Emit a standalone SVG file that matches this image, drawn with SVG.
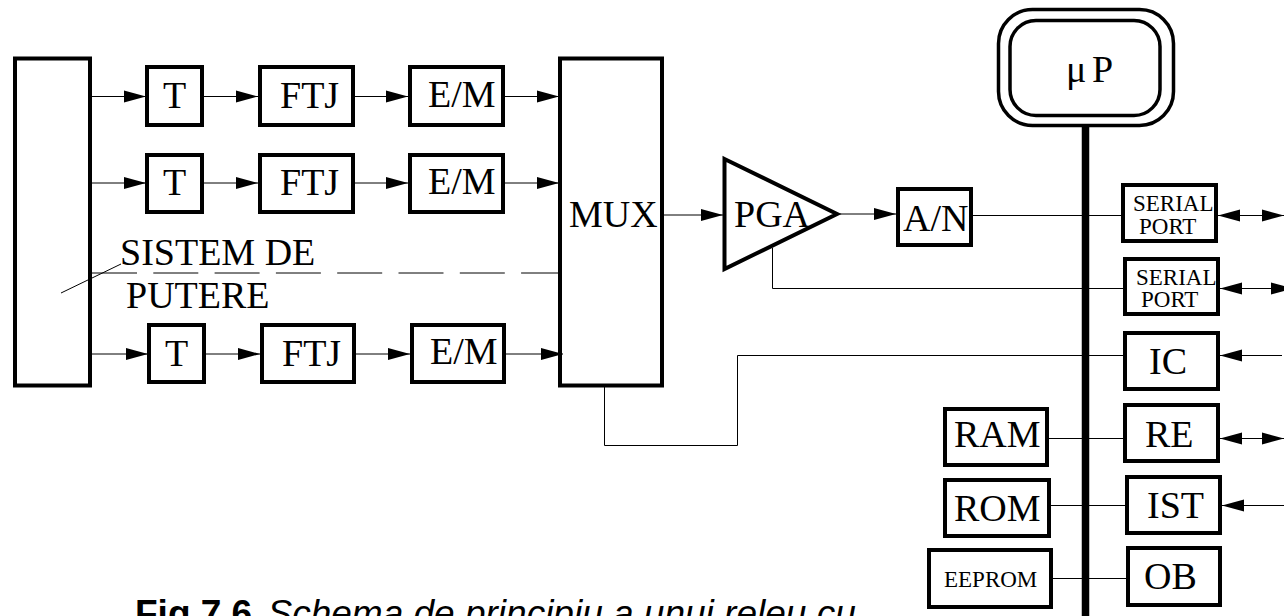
<svg xmlns="http://www.w3.org/2000/svg" width="1284" height="616" viewBox="0 0 1284 616">
<style>
text{font-family:"Liberation Serif","Times New Roman",serif;font-size:38px;fill:#000}
text.s{font-size:23px}
text.cap{font-family:"Liberation Sans",Arial,sans-serif;font-size:37px}
.b{fill:#fff;stroke:#000;stroke-width:4}
.c{fill:none;stroke:#000;stroke-width:1}
.a{marker-end:url(#arrow)}
.d{marker-start:url(#arrow);marker-end:url(#arrow)}
</style>
<defs>
<marker id="arrow" markerUnits="userSpaceOnUse" markerWidth="22" markerHeight="13" refX="22" refY="6.500" orient="auto-start-reverse"><path d="M0 0.500L22 6.500L0 12.500Z" fill="#000"/></marker>
</defs>
<g id="connectors">
<path class="c a" d="M92 96.500H146"/><path class="c a" d="M204 96.500H258"/><path class="c a" d="M354 96.500H408"/><path class="c a" d="M505 96.500H559"/>
<path class="c a" d="M92 183H146"/><path class="c a" d="M204 183H258"/><path class="c a" d="M354 183H408"/><path class="c a" d="M505 183H559"/>
<path class="c a" d="M92 354H148"/><path class="c a" d="M206 354H260"/><path class="c a" d="M356 354H410"/><path class="c a" d="M506 354H563"/>
<path class="c" stroke-dasharray="45 16.3" d="M92 273H559"/>
<path class="c" d="M61 293L121 264"/>
<path class="c a" d="M664 215H723"/>
<path class="c a" d="M840 214H896"/>
<path class="c" d="M973 215.500H1121"/>
<path class="c" d="M772.500 248V288.500H1123"/>
<path class="c" d="M604.500 387V445.500H737.500V355.500H1123"/>
<path class="c" d="M1049 438.500H1123"/>
<path class="c" d="M1051 505.500H1125"/>
<path class="c" d="M1053 578.500H1126"/>
<path class="c d" d="M1284 215.500H1218"/>
<path class="c d" d="M1293 288.500H1220"/>
<path class="c a" d="M1282 355.500H1220"/>
<path class="c d" d="M1284 438.500H1220"/>
<path class="c a" d="M1284 505.500H1222"/>
<path d="M1085.500 127V616" fill="none" stroke="#000" stroke-width="7.500"/>
</g>
<g id="sistem"><rect class="b" x="15" y="58.500" width="75" height="327" fill-opacity="0"/><text x="120" y="265">SISTEM DE</text><text x="126" y="308">PUTERE</text></g>
<g id="t1"><rect class="b" x="147" y="67" width="55" height="58"/><text x="163" y="108">T</text></g>
<g id="ftj1"><rect class="b" x="260" y="67" width="93" height="58"/><text x="280" y="108">FTJ</text></g>
<g id="em1"><rect class="b" x="410" y="67" width="93" height="58"/><text x="428" y="107">E/M</text></g>
<g id="t2"><rect class="b" x="147" y="155" width="55" height="57"/><text x="163" y="195">T</text></g>
<g id="ftj2"><rect class="b" x="260" y="155" width="93" height="57"/><text x="280" y="195">FTJ</text></g>
<g id="em2"><rect class="b" x="410" y="155" width="93" height="57"/><text x="428" y="194">E/M</text></g>
<g id="t3"><rect class="b" x="149" y="325" width="55" height="57"/><text x="165" y="366">T</text></g>
<g id="ftj3"><rect class="b" x="262" y="325" width="92" height="57"/><text x="282" y="366">FTJ</text></g>
<g id="em3"><rect class="b" x="412" y="325" width="92" height="57"/><text x="430" y="364">E/M</text></g>
<g id="mux"><rect class="b" x="560" y="58.500" width="102" height="327" fill-opacity="0"/><text x="569" y="227">MUX</text></g>
<g id="pga"><path class="b" d="M724.500 159L837 214L724.500 269Z" fill-opacity="0"/><text x="734" y="227">PGA</text></g>
<g id="an"><rect class="b" x="898" y="189" width="73" height="56"/><text x="903" y="231">A/N</text></g>
<g id="up"><rect x="998.500" y="9.500" width="175" height="116" rx="34" fill="#fff" stroke="#000" stroke-width="3.500"/><rect x="1010" y="20.500" width="150" height="95" rx="26" fill="#fff" stroke="#000" stroke-width="3.500"/><text x="1066" y="82">μ</text><text x="1092" y="82">P</text></g>
<g id="sp1"><rect class="b" x="1123" y="185" width="93" height="56"/><text class="s" x="1133" y="211">SERIAL</text><text class="s" x="1139" y="234">PORT</text></g>
<g id="sp2"><rect class="b" x="1125" y="259" width="93" height="55"/><text class="s" x="1136" y="285">SERIAL</text><text class="s" x="1141" y="307">PORT</text></g>
<g id="ic"><rect class="b" x="1125" y="333" width="93" height="56"/><text x="1149" y="374">IC</text></g>
<g id="re"><rect class="b" x="1125" y="405" width="93" height="56"/><text x="1145" y="447">RE</text></g>
<g id="ist"><rect class="b" x="1127" y="477" width="93" height="56"/><text x="1147" y="518">IST</text></g>
<g id="ob"><rect class="b" x="1128" y="548" width="92" height="57"/><text x="1144" y="589">OB</text></g>
<g id="ram"><rect class="b" x="945" y="409" width="102" height="56"/><text x="954" y="447">RAM</text></g>
<g id="rom"><rect class="b" x="945" y="480" width="104" height="56"/><text x="954" y="521">ROM</text></g>
<g id="eeprom"><rect class="b" x="929" y="550" width="122" height="57"/><text class="s" x="944" y="587">EEPROM</text></g>
<text class="cap" x="135" y="626"><tspan font-weight="bold">Fig.7.6</tspan><tspan font-style="italic" dx="5"> Schema de principiu a unui releu cu</tspan></text>
</svg>
